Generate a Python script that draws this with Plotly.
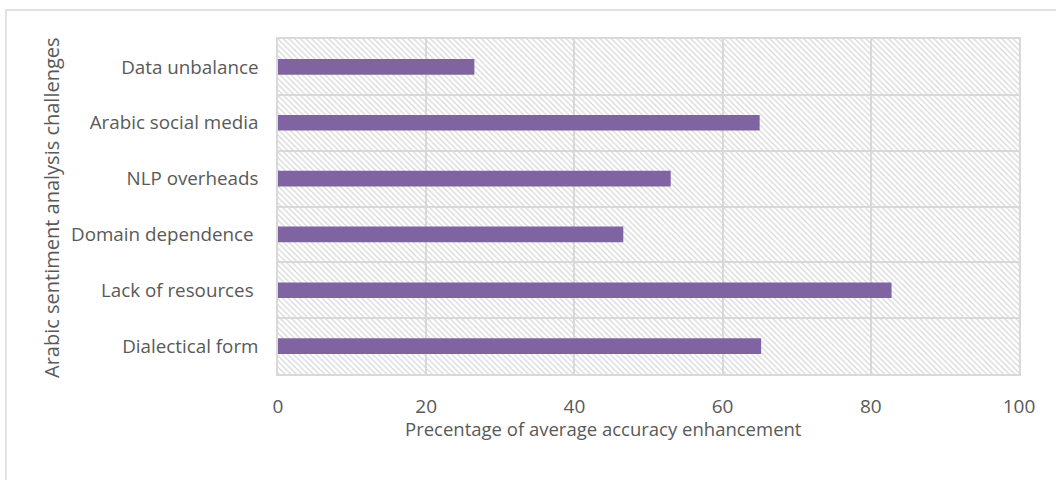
import plotly.graph_objects as go

# Challenges listed top to bottom
challenges = [
    "Data unbalance",
    "Arabic social media",
    "NLP overheads",
    "Domain dependence\u00a0",
    "Lack of resources\u00a0",
    "Dialectical form",
]
enhancement = [26.5, 65.0, 53.0, 46.6, 82.8, 65.2]
x_ticks = [0, 20, 40, 60, 80, 100]
X_MAX = 100

FONT = "'Open Sans', sans-serif"
TEXT = "#595959"
GRID = "#d9d9d9"

fig = go.Figure()

# hatched plot-area fill, one full-width band per category
fig.add_trace(go.Bar(
    y=challenges, x=[X_MAX] * len(challenges), orientation="h", width=1,
    marker=dict(color="rgba(0,0,0,0)", line=dict(width=0),
                pattern=dict(shape="\\", size=4, solidity=0.3,
                             fgcolor="#d6d6d6", fgopacity=1)),
    hoverinfo="skip", showlegend=False,
))

fig.add_trace(go.Bar(
    y=challenges, x=enhancement, orientation="h", width=0.28,
    marker=dict(color="#8064a2", line=dict(width=0)),
    showlegend=False,
))

fig.update_layout(
    width=1056, height=480,
    margin=dict(l=278, r=37, t=39, b=106),
    paper_bgcolor="white", plot_bgcolor="white",
    barmode="overlay",
    font=dict(family=FONT, color=TEXT),
    xaxis=dict(
        range=[0, X_MAX], tickvals=x_ticks, showgrid=True, gridcolor=GRID,
        gridwidth=1.5, zeroline=False, showline=True, linecolor=GRID,
        linewidth=1.5, mirror=True, ticks="", ticklabelstandoff=14,
        tickfont=dict(size=19, color=TEXT),
    ),
    yaxis=dict(
        type="category", autorange="reversed", tickson="boundaries",
        showgrid=True, gridcolor=GRID, gridwidth=1.5, showline=True,
        linecolor=GRID, linewidth=1.5, mirror=True, ticks="",
        ticklabelstandoff=14, tickfont=dict(size=18.8, color=TEXT),
    ),
    annotations=[
        dict(text="Precentage of average accuracy enhancement",
             xref="paper", yref="paper", x=(603 - 278) / 741, y=(374 - 428) / 335,
             xanchor="center", yanchor="middle", showarrow=False,
             font=dict(size=18.5, color=TEXT)),
        dict(text="Arabic sentiment analysis challenges",
             xref="paper", yref="paper", x=(51 - 278) / 741, y=(374 - 208) / 335,
             xanchor="center", yanchor="middle", showarrow=False, textangle=-90,
             font=dict(size=20, color=TEXT)),
    ],
    shapes=[
        # chart frame
        dict(type="rect", xref="paper", yref="paper",
             x0=(6 - 278) / 741, x1=(1062 - 278) / 741,
             y0=(374 - 486) / 335, y1=(374 - 10) / 335,
             line=dict(color=GRID, width=1.5), fillcolor="rgba(0,0,0,0)",
             layer="below"),
    ],
)

fig.write_html("out.html")
